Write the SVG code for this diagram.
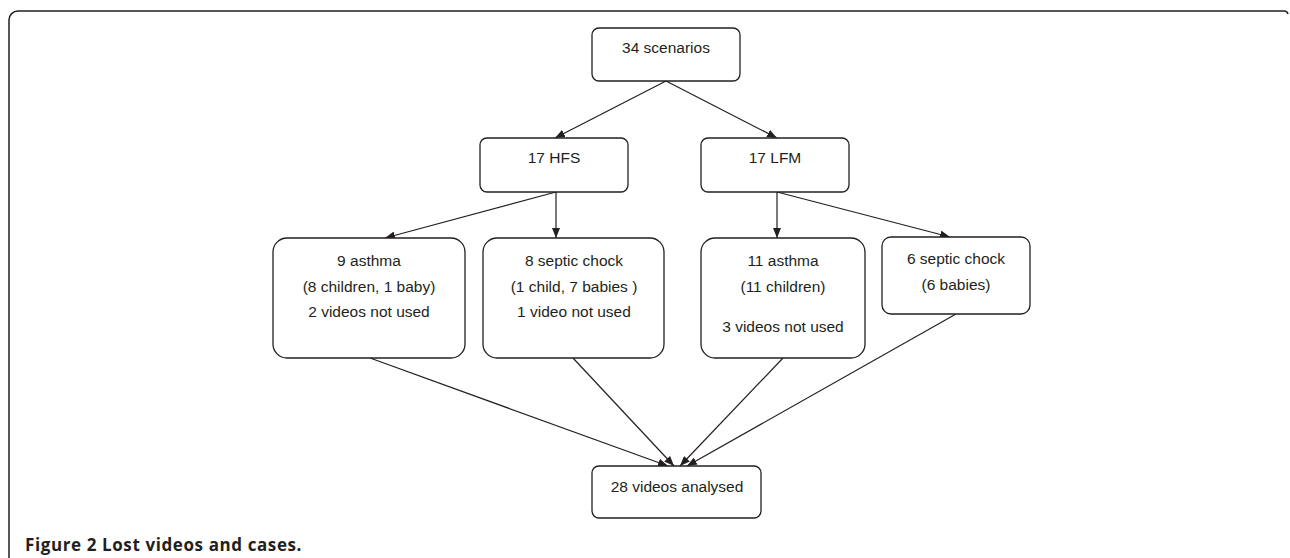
<svg xmlns="http://www.w3.org/2000/svg" width="1290" height="558" viewBox="0 0 1290 558">
<defs>
<marker id="arr" markerWidth="10" markerHeight="8" refX="10" refY="4" orient="auto" markerUnits="userSpaceOnUse">
<path d="M0,0 L10,4 L0,8 Z" fill="#231f20"/>
</marker>
<style>
.box{fill:#fff;stroke:#231f20;stroke-width:1.3}
.t{font-family:"Liberation Sans",Arial,sans-serif;font-size:15.5px;fill:#231f20;text-anchor:middle}
.c{stroke:#231f20;stroke-width:1.2;fill:none;marker-end:url(#arr)}
.cap{font-family:"Open Sans","Liberation Sans",sans-serif;font-size:17px;font-weight:bold;fill:#231f20;letter-spacing:0.6px}
</style>
</defs>
<rect width="1290" height="558" fill="#fff"/>
<path d="M9,558 L9,20 A9,9 0 0 1 18,11 L1284,11 A4,4 0 0 1 1288,14" fill="none" stroke="#231f20" stroke-width="1.5"/>
<g id="connectors">
<line class="c" x1="666" y1="81" x2="555" y2="138"/>
<line class="c" x1="666" y1="81" x2="777" y2="138"/>
<line class="c" x1="556" y1="192" x2="385" y2="238"/>
<line class="c" x1="556" y1="192" x2="556" y2="238"/>
<line class="c" x1="777" y1="192" x2="777" y2="238"/>
<line class="c" x1="777" y1="192" x2="950" y2="237"/>
<line class="c" x1="370" y1="358" x2="668" y2="466"/>
<line class="c" x1="573" y1="358" x2="674" y2="466"/>
<line class="c" x1="783" y1="358" x2="680" y2="466"/>
<line class="c" x1="956" y1="314" x2="687" y2="466"/>
</g>
<g id="n34"><rect class="box" x="592" y="28" width="148" height="53" rx="7"/><text class="t" x="666" y="53">34 scenarios</text></g>
<g id="hfs"><rect class="box" x="480" y="138" width="148" height="54" rx="7"/><text class="t" x="554" y="163">17 HFS</text></g>
<g id="lfm"><rect class="box" x="701" y="138" width="148" height="54" rx="7"/><text class="t" x="775" y="163">17 LFM</text></g>
<g id="asthma9"><rect class="box" x="273" y="238" width="192" height="120" rx="14"/>
<text class="t" x="369" y="266">9 asthma</text><text class="t" x="369" y="292">(8 children, 1 baby)</text><text class="t" x="369" y="317">2 videos not  used</text></g>
<g id="septic8"><rect class="box" x="483" y="238" width="181" height="120" rx="14"/>
<text class="t" x="574" y="266">8 septic chock</text><text class="t" x="574" y="292">(1 child, 7 babies )</text><text class="t" x="574" y="317">1 video not used</text></g>
<g id="asthma11"><rect class="box" x="701" y="238" width="164" height="120" rx="14"/>
<text class="t" x="783" y="266">11 asthma</text><text class="t" x="783" y="292">(11 children)</text><text class="t" x="783" y="332">3 videos not used</text></g>
<g id="septic6"><rect class="box" x="882" y="237" width="148" height="77" rx="9"/>
<text class="t" x="956" y="264">6 septic chock</text><text class="t" x="956" y="290">(6 babies)</text></g>
<g id="videos28"><rect class="box" x="592" y="466" width="169" height="52" rx="7"/><text class="t" x="677" y="492">28 videos analysed</text></g>
<text class="cap" x="25" y="551">Figure 2 Lost videos and cases.</text>
</svg>
